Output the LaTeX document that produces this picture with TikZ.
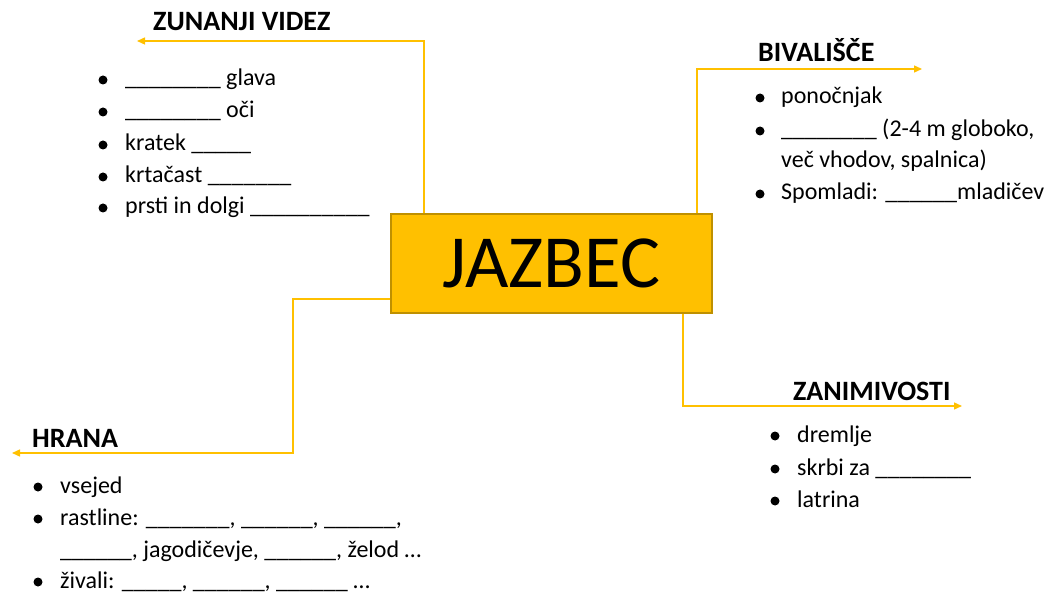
\documentclass[tikz,border=0pt]{standalone}
\usepackage{fontspec}
\setmainfont{Carlito}
\usetikzlibrary{arrows.meta}
\definecolor{zlata}{HTML}{FFC000}
\definecolor{rob}{HTML}{BF9000}
\newcommand{\crta}[1]{\foreach \i in {1,...,#1}{\_}}
\tikzset{
  link/.style = {zlata, line width=1.4pt, -{Triangle[length=8pt,width=7pt]}},
  naslov/.style = {anchor=base west, inner sep=0pt, font=\fontsize{28}{32}\selectfont\bfseries},
  vrsta/.style = {anchor=base west, inner sep=0pt, font=\fontsize{24}{28}\selectfont}
}
\begin{document}
\begin{tikzpicture}[x=1pt, y=-1pt]
      \useasboundingbox (0,0) rectangle (1052,593);
      % center
      \node[draw=rob, line width=1.4pt, fill=zlata, minimum width=321pt, minimum height=99pt,
            font=\fontsize{75}{80}\selectfont] at (551.5,263.5) (J) {JAZBEC};
      % first branch
      \node[naslov] at (153,31) (Z) {ZUNANJI VIDEZ};
      \coordinate (Zc) at (424,41);
      \coordinate (Ze) at (137,41);
      \draw[link] (J.north -| Zc) -- (Zc) -- (Ze);
      \node[vrsta] at (125,86) (Z1) {\crta{8} glava};
      \node[vrsta] at (125,118) (Z2) {\crta{8} oči};
      \node[vrsta] at (125,151) (Z3) {kratek \crta{5}};
      \node[vrsta] at (125,183) (Z4) {krtačast \crta{7}};
      \node[vrsta] at (125,214) (Z5) {prsti in dolgi \crta{10}};
      \foreach \y in {86,118,151,183,214}
        \fill (103,\y-6) circle (4.5);
      % second branch
      \node[naslov] at (758,62) (B) {BIVALIŠČE};
      \coordinate (Bc) at (697,69);
      \coordinate (Be) at (922,69);
      \draw[link] (J.north -| Bc) -- (Bc) -- (Be);
      \node[vrsta] at (781,104) (B1) {ponočnjak};
      \node[vrsta] at (781,137) (B2) {\crta{8} (2-4 m globoko,};
      \node[vrsta] at (781,168) (B3) {več vhodov, spalnica)};
      \node[vrsta] at (781,200) (B4) {Spomladi: \crta{6}mladičev};
      \foreach \y in {104,137,200}
        \fill (760,\y-6) circle (4.5);
      % third branch
      \node[naslov] at (32,447) (H) {HRANA};
      \coordinate (Hc) at (293,299);
      \coordinate (Hd) at (293,453);
      \coordinate (He) at (12,453);
      \draw[link] (J.west |- Hc) -- (Hc) -- (Hd) -- (He);
      \node[vrsta] at (60,493) (H1) {vsejed};
      \node[vrsta] at (60,525) (H2) {rastline: \crta{7}, \crta{6}, \crta{6},};
      \node[vrsta] at (60,557) (H3) {\crta{6}, jagodičevje, \crta{6}, želod …};
      \node[vrsta] at (60,588) (H4) {živali: \crta{5}, \crta{6}, \crta{6} …};
      \foreach \y in {493,525,588}
        \fill (38,\y-6) circle (4.5);
      % fourth branch
      \node[naslov] at (793,400) (N) {ZANIMIVOSTI};
      \coordinate (Nc) at (683,406);
      \coordinate (Ne) at (962,406);
      \draw[link] (J.south -| Nc) -- (Nc) -- (Ne);
      \node[vrsta] at (797,442) (N1) {dremlje};
      \node[vrsta] at (797,475) (N2) {skrbi za \crta{8}};
      \node[vrsta] at (797,507) (N3) {latrina};
      \foreach \y in {442,475,507}
        \fill (775,\y-6) circle (4.5);
    \end{tikzpicture}
\end{document}
